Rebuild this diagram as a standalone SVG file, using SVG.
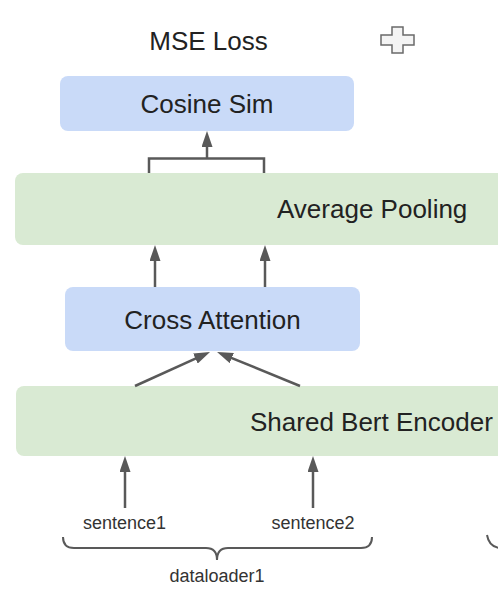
<svg xmlns="http://www.w3.org/2000/svg" width="498" height="604" viewBox="0 0 498 604">
<style>
.blue{fill:#c9daf8;}
.green{fill:#d9ead3;}
.big{font-family:"Liberation Sans",Arial,sans-serif;font-size:26px;fill:#222;}
.small{font-family:"Liberation Sans",Arial,sans-serif;font-size:18px;fill:#333;}
.conn{stroke:#595959;stroke-width:2.5;fill:none;}
.brace{stroke:#595959;stroke-width:2;fill:none;}
</style>
<defs>
<marker id="ah" markerUnits="userSpaceOnUse" viewBox="0 0 16 11" markerWidth="16" markerHeight="11" refX="6" refY="5.5" orient="auto">
<path d="M0,0 L16,5.5 L0,11 z" fill="#595959"/>
</marker>
</defs>
<rect width="498" height="604" fill="#ffffff"/>
<g id="mse-loss">
<text class="big" x="208.5" y="50" text-anchor="middle">MSE Loss</text>
</g>
<g id="plus-icon">
<polygon points="392,27 403,27 403,35 414,35 414,45 403,45 403,53 392,53 392,45 381,45 381,35 392,35" fill="#f4f4f4" stroke="#6a6a6a" stroke-width="1.5"/>
</g>
<g id="cosine-sim">
<rect class="blue" x="60" y="76" width="294" height="55" rx="8"/>
<text class="big" x="207" y="113" text-anchor="middle">Cosine Sim</text>
</g>
<g id="average-pooling">
<rect class="green" x="15" y="173" width="500" height="72" rx="8"/>
<text class="big" x="277" y="218">Average Pooling</text>
</g>
<g id="cross-attention">
<rect class="blue" x="65" y="287" width="295" height="64" rx="8"/>
<text class="big" x="212.5" y="329" text-anchor="middle">Cross Attention</text>
</g>
<g id="shared-bert-encoder">
<rect class="green" x="16" y="386" width="500" height="70" rx="8"/>
<text class="big" x="250" y="431">Shared Bert Encoder</text>
</g>
<g id="sentence1">
<text class="small" x="124.5" y="529" text-anchor="middle">sentence1</text>
</g>
<g id="sentence2">
<text class="small" x="313" y="529" text-anchor="middle">sentence2</text>
</g>
<g id="dataloader1">
<text class="small" x="217" y="582" text-anchor="middle">dataloader1</text>
</g>
<g id="connectors">
<path class="conn" d="M149,173 L149,158.5 L264,158.5 L264,173"/>
<path class="conn" d="M207,158.5 L207,141" marker-end="url(#ah)"/>
<path class="conn" d="M155,287 L155,255" marker-end="url(#ah)"/>
<path class="conn" d="M265,287 L265,255" marker-end="url(#ah)"/>
<path class="conn" d="M135,386 L200.9,356.1" marker-end="url(#ah)"/>
<path class="conn" d="M300,386 L226.3,355.8" marker-end="url(#ah)"/>
<path class="conn" d="M125,508 L125,466" marker-end="url(#ah)"/>
<path class="conn" d="M313,508 L313,466" marker-end="url(#ah)"/>
<path class="brace" d="M63,537 Q63,548 74,548 L206,548 Q217,548 217,560 Q217,548 228,548 L361,548 Q372,548 372,537"/>
<path class="brace" d="M487,535 Q489,547 500,548"/>
</g>
</svg>
